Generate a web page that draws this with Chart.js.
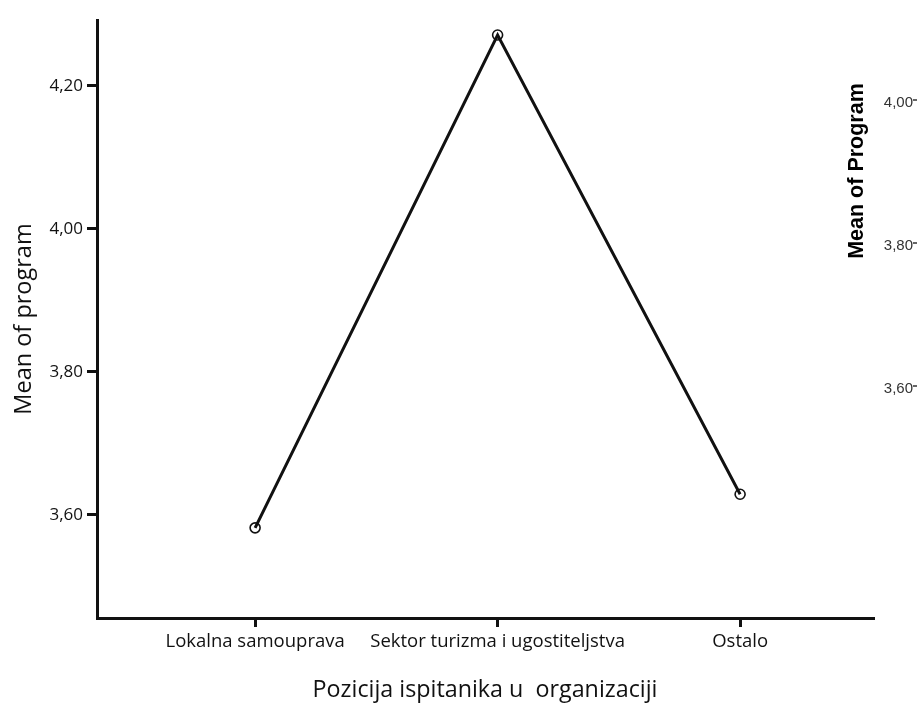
<!DOCTYPE html>
<html><head><meta charset="utf-8">
<script src="https://cdn.jsdelivr.net/npm/chart.js@4.4.0/dist/chart.umd.min.js"></script>
<style>html,body{margin:0;padding:0;background:#fff}#wrap{width:917px;height:708px;position:relative}</style>
</head><body><div id="wrap"><canvas id="c"></canvas></div>
<script>
const categories=['Lokalna samouprava','Sektor turizma i ugostiteljstva','Ostalo'];
const means=[3.582,4.271,3.629];
const yTicks=[3.6,3.8,4.0,4.2];
const sideTitle='Mean of Program';
const sideTicks=['4,00','3,80','3,60'];

const fmt=v=>v.toFixed(2).replace('.',',');

// cropped piece of a neighbouring chart at the right edge
const sidePiece={id:'sidePiece',afterDraw(chart){
  const ctx=chart.ctx; ctx.save();
  ctx.fillStyle='#000';
  ctx.font='bold 21.5px "Liberation Sans", Arial, sans-serif';
  ctx.translate(857,171); ctx.rotate(-Math.PI/2);
  ctx.textAlign='center'; ctx.textBaseline='middle';
  ctx.fillText(sideTitle,0,0);
  ctx.setTransform(1,0,0,1,0,0);
  ctx.font='15px "Liberation Sans", Arial, sans-serif';
  ctx.fillStyle='#333'; ctx.strokeStyle='#333'; ctx.lineWidth=1.5;
  ctx.textAlign='right';
  sideTicks.forEach((t,i)=>{
    const y=102+i*143;
    ctx.fillText(t,913,y+1);
    ctx.beginPath(); ctx.moveTo(913,y-2); ctx.lineTo(917,y-2); ctx.stroke();
  });
  ctx.restore();
}};

new Chart(document.getElementById('c'),{
  type:'line',
  data:{datasets:[{
    data:means.map((v,i)=>({x:i,y:v})),
    borderColor:'#111',borderWidth:3,
    pointRadius:5,pointBorderWidth:1.6,pointBorderColor:'#111',pointBackgroundColor:'rgba(0,0,0,0)',
    tension:0
  }]},
  options:{
    responsive:true,maintainAspectRatio:false,animation:false,
    layout:{padding:{top:20,right:44,left:0,bottom:0}},
    plugins:{legend:{display:false},tooltip:{enabled:false}},
    scales:{
      x:{type:'linear',min:-0.652,max:2.548,
        afterBuildTicks:s=>{s.ticks=categories.map((c,i)=>({value:i}));},
        afterFit:s=>{s.height=90;},
        ticks:{callback:v=>categories[v],color:'#111',font:{family:'"Open Sans"',size:18.5},padding:4,maxRotation:0,autoSkip:false},
        grid:{drawOnChartArea:false,color:'#111',lineWidth:3,tickLength:9},
        border:{display:true,color:'#111',width:3},
        title:{display:true,text:'Pozicija ispitanika u  organizaciji',color:'#111',font:{family:'"Open Sans"',size:23.3},padding:{top:20,bottom:4}}
      },
      y:{min:3.456,max:4.292,
        afterBuildTicks:s=>{s.ticks=yTicks.map(v=>({value:v}));},
        afterFit:s=>{s.width=97;},
        ticks:{callback:v=>fmt(v),color:'#111',font:{family:'"Open Sans"',size:17},padding:4},
        grid:{drawOnChartArea:false,color:'#111',lineWidth:3,tickLength:10},
        border:{display:true,color:'#111',width:3},
        title:{display:true,text:'Mean of program',color:'#111',font:{family:'"Open Sans"',size:23.5},padding:{top:10,bottom:0}}
      }
    }
  },
  plugins:[sidePiece]
});
</script></body></html>
